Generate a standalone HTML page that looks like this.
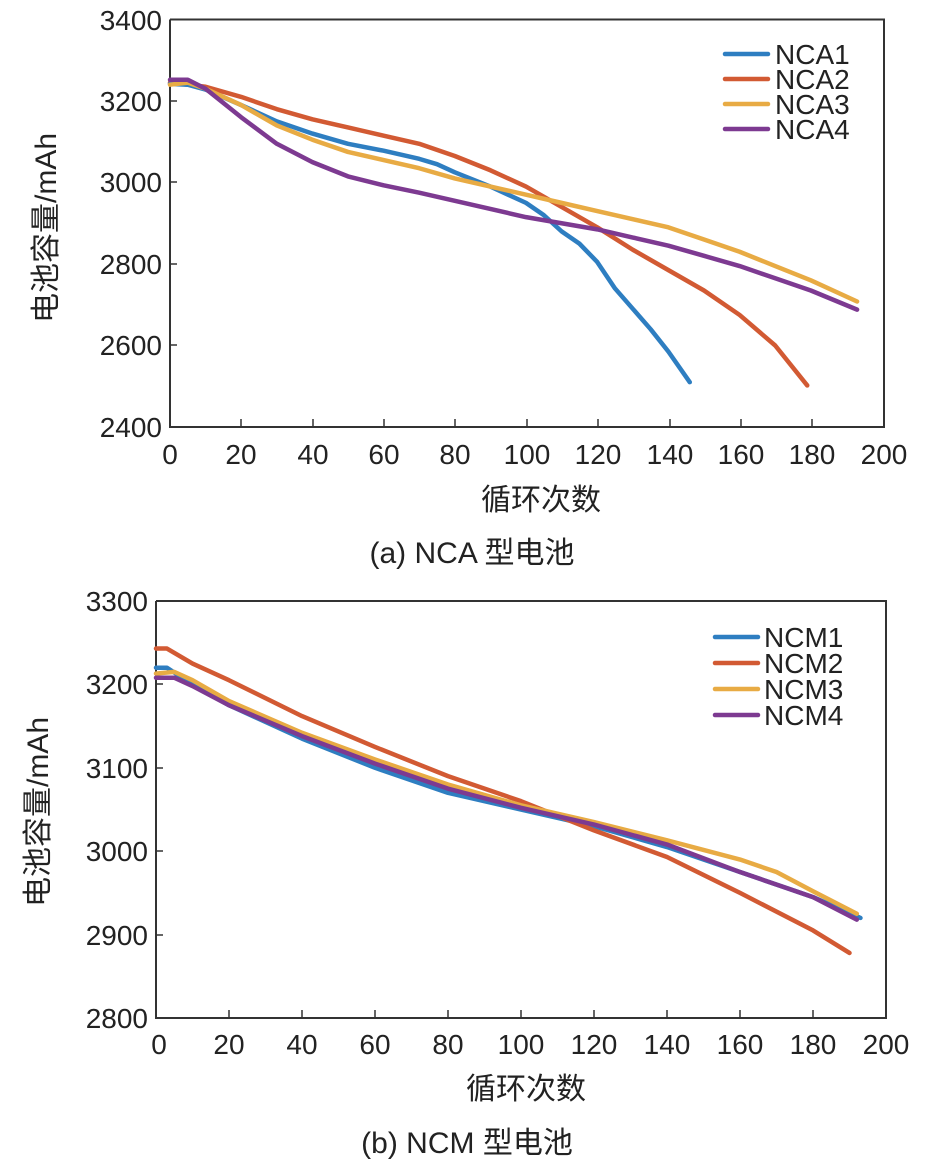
<!DOCTYPE html>
<html><head><meta charset="utf-8"><style>
body{margin:0;background:#fff;width:945px;height:1170px;overflow:hidden}
svg{display:block}
text{font-family:"Liberation Sans","Noto Sans CJK SC",sans-serif;fill:#222}
.t{font-size:28px}
.l{font-size:30px}
.d{fill:none;stroke-width:4.5;stroke-linejoin:round;stroke-linecap:round}
</style></head><body>
<svg width="945" height="1170" viewBox="0 0 945 1170">
<!-- Top chart -->
<g stroke="#333" stroke-width="2" fill="none">
<polyline points="170,19.5 884,19.5 884,427 170,427 170,19.5"/>
</g>
<g stroke="#333" stroke-width="1.5">
<line x1="170" y1="101" x2="177" y2="101"/><line x1="170" y1="182" x2="177" y2="182"/><line x1="170" y1="264" x2="177" y2="264"/><line x1="170" y1="345" x2="177" y2="345"/>
<line x1="241" y1="427" x2="241" y2="419"/><line x1="313" y1="427" x2="313" y2="419"/><line x1="384" y1="427" x2="384" y2="419"/><line x1="455" y1="427" x2="455" y2="419"/><line x1="527" y1="427" x2="527" y2="419"/><line x1="598" y1="427" x2="598" y2="419"/><line x1="670" y1="427" x2="670" y2="419"/><line x1="741" y1="427" x2="741" y2="419"/><line x1="812" y1="427" x2="812" y2="419"/>
</g>
<g class="t" text-anchor="end">
<text x="162" y="30">3400</text><text x="162" y="111">3200</text><text x="162" y="192">3000</text><text x="162" y="274">2800</text><text x="162" y="355">2600</text><text x="162" y="437">2400</text>
</g>
<g class="t" text-anchor="middle">
<text x="170" y="464">0</text><text x="241" y="464">20</text><text x="313" y="464">40</text><text x="384" y="464">60</text><text x="455" y="464">80</text><text x="527" y="464">100</text><text x="598" y="464">120</text><text x="670" y="464">140</text><text x="741" y="464">160</text><text x="812" y="464">180</text><text x="884" y="464">200</text>
</g>
<g class="l" text-anchor="middle">
<text x="541" y="510">循环次数</text>
<text x="472" y="563">(a) NCA 型电池</text>
</g>
<text class="l" text-anchor="middle" transform="translate(56,228) rotate(-90)">电池容量/mAh</text>
<g transform="translate(170,427) scale(3.56,-0.4075) translate(0,-2400)">
<polyline class="d" vector-effect="non-scaling-stroke" stroke="#D25A33" points="0,3245 10,3235 20,3210 30,3180 40,3155 50,3135 60,3115 70,3095 80,3065 90,3030 100,2990 110,2940 120,2890 130,2835 140,2785 150,2735 160,2675 170,2600 179,2502"/>
<polyline class="d" vector-effect="non-scaling-stroke" stroke="#2E7EC1" points="0,3242 5,3240 10,3228 20,3190 30,3150 40,3120 50,3095 60,3078 70,3058 75,3045 80,3025 90,2990 100,2950 105,2920 110,2880 115,2850 120,2805 125,2740 130,2690 135,2640 140,2585 146,2510"/>
<polyline class="d" vector-effect="non-scaling-stroke" stroke="#E8AB44" points="0,3240 5,3245 10,3230 20,3190 30,3140 40,3105 50,3075 60,3055 70,3035 80,3010 90,2990 100,2970 110,2950 120,2930 130,2910 140,2890 150,2860 160,2830 170,2795 180,2760 193,2708"/>
<polyline class="d" vector-effect="non-scaling-stroke" stroke="#7D3A91" points="0,3252 5,3252 10,3230 20,3160 30,3095 40,3050 50,3015 60,2993 70,2975 80,2955 90,2935 100,2915 110,2900 120,2885 130,2865 140,2845 150,2820 160,2795 170,2765 180,2735 193,2688"/>
</g>
<g class="d">
<line x1="725" y1="54" x2="768" y2="54" stroke="#2E7EC1"/><line x1="725" y1="79" x2="768" y2="79" stroke="#D25A33"/><line x1="725" y1="104" x2="768" y2="104" stroke="#E8AB44"/><line x1="725" y1="129" x2="768" y2="129" stroke="#7D3A91"/>
</g>
<g class="t"><text x="775" y="64">NCA1</text><text x="775" y="89">NCA2</text><text x="775" y="114">NCA3</text><text x="775" y="139">NCA4</text></g>

<!-- Bottom chart -->
<g stroke="#333" stroke-width="2" fill="none">
<polyline points="156,601 886,601 886,1018 156,1018 156,601"/>
</g>
<g stroke="#333" stroke-width="1.5">
<line x1="156" y1="684" x2="163" y2="684"/><line x1="156" y1="768" x2="163" y2="768"/><line x1="156" y1="851" x2="163" y2="851"/><line x1="156" y1="935" x2="163" y2="935"/>
<line x1="229" y1="1018" x2="229" y2="1010"/><line x1="302" y1="1018" x2="302" y2="1010"/><line x1="375" y1="1018" x2="375" y2="1010"/><line x1="448" y1="1018" x2="448" y2="1010"/><line x1="521" y1="1018" x2="521" y2="1010"/><line x1="594" y1="1018" x2="594" y2="1010"/><line x1="667" y1="1018" x2="667" y2="1010"/><line x1="740" y1="1018" x2="740" y2="1010"/><line x1="813" y1="1018" x2="813" y2="1010"/>
</g>
<g class="t" text-anchor="end">
<text x="148" y="611">3300</text><text x="148" y="694">3200</text><text x="148" y="778">3100</text><text x="148" y="861">3000</text><text x="148" y="945">2900</text><text x="148" y="1028">2800</text>
</g>
<g class="t" text-anchor="middle">
<text x="159" y="1054">0</text><text x="229" y="1054">20</text><text x="302" y="1054">40</text><text x="375" y="1054">60</text><text x="448" y="1054">80</text><text x="521" y="1054">100</text><text x="594" y="1054">120</text><text x="667" y="1054">140</text><text x="740" y="1054">160</text><text x="813" y="1054">180</text><text x="886" y="1054">200</text>
</g>
<g class="l" text-anchor="middle">
<text x="526" y="1099">循环次数</text>
<text x="467" y="1153">(b) NCM 型电池</text>
</g>
<text class="l" text-anchor="middle" transform="translate(48,812) rotate(-90)">电池容量/mAh</text>
<g transform="translate(156,1018) scale(3.65,-0.834) translate(0,-2800)">
<polyline class="d" vector-effect="non-scaling-stroke" stroke="#2E7EC1" points="0,3220 3,3220 10,3200 20,3175 40,3135 60,3100 80,3070 100,3050 120,3030 140,3005 160,2975 180,2945 193,2920"/>
<polyline class="d" vector-effect="non-scaling-stroke" stroke="#D25A33" points="0,3243 3,3243 10,3225 20,3205 40,3162 60,3125 80,3090 100,3060 120,3025 140,2993 160,2950 180,2905 190,2878"/>
<polyline class="d" vector-effect="non-scaling-stroke" stroke="#E8AB44" points="0,3213 5,3215 10,3205 20,3180 40,3142 60,3110 80,3080 100,3055 120,3035 140,3013 160,2990 170,2975 180,2952 192,2925"/>
<polyline class="d" vector-effect="non-scaling-stroke" stroke="#7D3A91" points="0,3208 5,3208 10,3198 20,3175 40,3138 60,3105 80,3075 100,3052 120,3032 140,3008 160,2975 180,2945 192,2918"/>
</g>
<g class="d">
<line x1="715" y1="637" x2="758" y2="637" stroke="#2E7EC1"/><line x1="715" y1="663" x2="758" y2="663" stroke="#D25A33"/><line x1="715" y1="689" x2="758" y2="689" stroke="#E8AB44"/><line x1="715" y1="715" x2="758" y2="715" stroke="#7D3A91"/>
</g>
<g class="t"><text x="764" y="647">NCM1</text><text x="764" y="673">NCM2</text><text x="764" y="699">NCM3</text><text x="764" y="725">NCM4</text></g>
</svg>
</body></html>
